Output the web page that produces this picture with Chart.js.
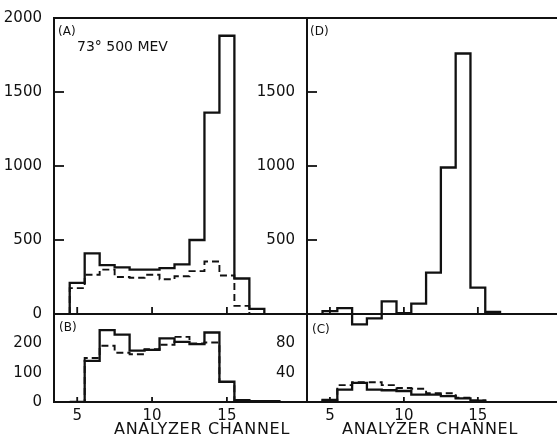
<!DOCTYPE html>
<html><head><meta charset="utf-8">
<script src="https://cdn.jsdelivr.net/npm/chart.js@4.4.0/dist/chart.umd.min.js"></script>
<style>
html,body{margin:0;padding:0;background:#fff;}
#wrap{position:relative;width:557px;height:438px;overflow:hidden;background:#fff;}
canvas{position:absolute;left:0;top:0;}
</style></head><body>
<div id="wrap">
<canvas id="cA" width="557" height="438"></canvas>
<canvas id="cD" width="557" height="438"></canvas>
<canvas id="cB" width="557" height="438"></canvas>
<canvas id="cC" width="557" height="438"></canvas>
</div>
<script>
// ---- data (counts per analyzer channel) ----
const chA = [5,6,7,8,9,10,11,12,13,14,15,16,17];
const aSolid = [210,410,330,315,300,300,310,335,500,1360,1880,240,35];
const chAd = [5,6,7,8,9,10,11,12,13,14,15,16];
const aDashed = [175,265,300,250,245,265,235,255,290,355,260,55];

const chD = [5,6,7,8,9,10,11,12,13,14,15,16];
const dSolid = [20,40,-70,-30,85,5,70,280,990,1760,178,15];

const chB = [5,6,7,8,9,10,11,12,13,14,15,16,17,18];
const bSolid = [0,140,245,230,175,178,217,205,197,237,69,6,3,3];
const bDashed = [0,150,192,168,163,180,195,222,200,203,68,5,3,3];

const chC = [5,6,7,8,9,10,11,12,13,14,15];
const cSolid = [3,17,26,17,16,15,10,10,8,5,2];
const cDashed = [2,23,27,27,23,19,18,12,12,6,2];

// ---- tick labels ----
const yTicksA = [0,500,1000,1500,2000];
const yTicksD = [500,1000,1500];
const yTicksB = [0,100,200];
const yTicksC = [40,80];
const xTicks = [5,10,15];
const innerYTicksTop = [500,1000,1500];
const xLabel = 'ANALYZER CHANNEL';

const INK = '#111';
const FONT = 'DejaVu Sans';

function steps(chs, vals){
  const pts = [{x: chs[0]-0.5, y: 0}];
  chs.forEach((c,i)=>pts.push({x: c+0.5, y: vals[i]}));
  pts.push({x: chs[chs.length-1]+0.5, y: 0});
  return pts;
}
function solidDs(chs, vals, clip){
  const d = {data: steps(chs, vals), stepped: 'after', borderColor: INK, borderWidth: 2.3,
    pointRadius: 0, fill: false, tension: 0};
  if (clip === false) d.clip = false;
  return d;
}
function dashedDs(chs, vals){
  return {data: steps(chs, vals), stepped: 'after', borderColor: INK, borderWidth: 1.9,
    borderDash: [7,4], pointRadius: 0, fill: false, tension: 0};
}

function marksPlugin(c){
  return {
    id: 'marks_'+Math.random().toString(36).slice(2),
    afterDraw(chart){
      const ctx = chart.ctx; const ca = chart.chartArea;
      const xs = chart.scales.x, ys = chart.scales.y;
      ctx.save(); ctx.strokeStyle = INK; ctx.lineWidth = 1.8; ctx.setLineDash([]);
      c.inY.forEach(v=>{const p = ys.getPixelForValue(v); ctx.beginPath(); ctx.moveTo(ca.left, p); ctx.lineTo(ca.left+10, p); ctx.stroke();});
      xTicks.forEach(v=>{const p = xs.getPixelForValue(v); ctx.beginPath(); ctx.moveTo(p, ca.bottom); ctx.lineTo(p, ca.bottom-c.xLen); ctx.stroke();});
      c.texts.forEach(t=>{
        ctx.font = t.font; ctx.fillStyle = INK; ctx.textAlign = t.align||'left'; ctx.textBaseline = 'middle';
        if ('letterSpacing' in ctx) ctx.letterSpacing = (t.ls||0)+'px';
        ctx.fillText(t.text, t.x, t.y);
      });
      ctx.restore();
    }
  };
}

function make(id, c){
  const scales = {
    x: {type:'linear', position:'bottom', min:3.45, max:20.35,
      grid:{display:false}, border:{display:true, color:INK, width:2},
      ticks:{display:c.xLabels, color:INK, padding:-3, font:{family:FONT, size:15}, callback:v=>String(v)},
      afterBuildTicks: s=>{s.ticks = xTicks.map(v=>({value:v}));},
      afterFit: s=>{s.height = c.xH;}},
    y: {type:'linear', position:'left', min:c.yMin, max:c.yMax,
      grid:{display:false}, border:{display:true, color:INK, width:2},
      ticks:{color:INK, padding:4, font:{family:FONT, size:15}, callback:v=>String(v)},
      afterBuildTicks: s=>{s.ticks = c.yTicks.map(v=>({value:v}));},
      afterFit: s=>{s.width = 50;}}
  };
  if (c.top) scales.xt = {type:'linear', position:'top', min:0, max:1,
      grid:{display:false}, border:{display:true, color:INK, width:2},
      ticks:{display:false}, afterFit: s=>{s.height = 0;}};
  return new Chart(document.getElementById(id), {
    type:'line',
    data:{datasets:c.datasets},
    options:{responsive:false, animation:false, events:[],
      layout:{padding:c.padding},
      plugins:{legend:{display:false}, tooltip:{enabled:false}},
      scales:scales},
    plugins:[marksPlugin(c)]
  });
}

make('cA', {datasets:[solidDs(chA,aSolid), dashedDs(chAd,aDashed)], yMin:0, yMax:2000, yTicks:yTicksA,
  inY:innerYTicksTop, xLabels:false, xH:0, xLen:7, top:true,
  padding:{left:4, right:250, top:18, bottom:124},
  texts:[{text:'(A)', x:58, y:32, font:'12px '+FONT},{text:'73° 500 MEV', x:77, y:47, font:'14px '+FONT}]});
make('cD', {datasets:[solidDs(chD,dSolid,false)], yMin:0, yMax:2000, yTicks:yTicksD,
  inY:innerYTicksTop, xLabels:false, xH:0, xLen:7, top:true,
  padding:{left:257, right:0, top:18, bottom:124},
  texts:[{text:'(D)', x:310, y:32, font:'12px '+FONT}]});
make('cB', {datasets:[solidDs(chB,bSolid), dashedDs(chB,bDashed)], yMin:0, yMax:300, yTicks:yTicksB,
  inY:[], xLabels:true, xH:20, xLen:5, top:false,
  padding:{left:4, right:250, top:314, bottom:16},
  texts:[{text:'(B)', x:59, y:328, font:'12px '+FONT},{text:xLabel, x:202, y:430, font:'16px '+FONT, align:'center', ls:0.7}]});
make('cC', {datasets:[solidDs(chC,cSolid), dashedDs(chC,cDashed)], yMin:0, yMax:120, yTicks:yTicksC,
  inY:[], xLabels:true, xH:20, xLen:5, top:false,
  padding:{left:257, right:0, top:314, bottom:16},
  texts:[{text:'(C)', x:312, y:330, font:'12px '+FONT},{text:xLabel, x:430, y:430, font:'16px '+FONT, align:'center', ls:0.7}]});
</script>
</body></html>
